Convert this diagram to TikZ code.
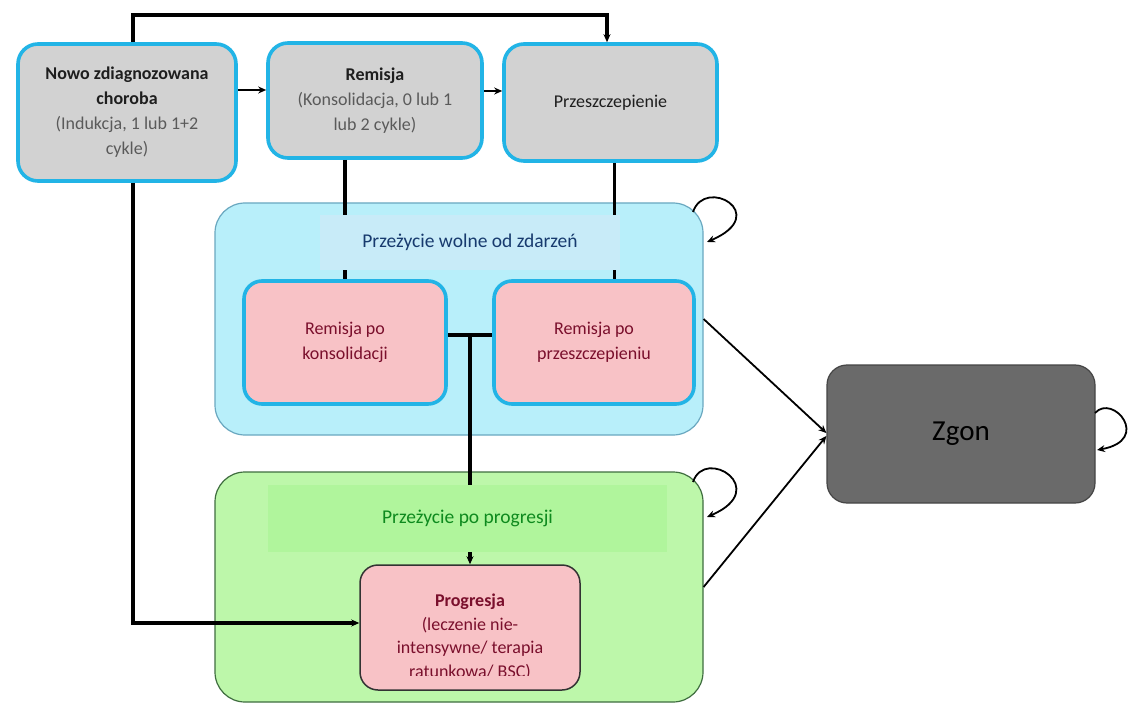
\documentclass[tikz,border=0pt]{standalone}
\usepackage{fontspec}
\setmainfont{Carlito}
\usetikzlibrary{arrows.meta,calc}
\definecolor{boxgray}{HTML}{D2D2D2}
\definecolor{cyanb}{HTML}{22B4E6}
\definecolor{bluefill}{HTML}{B8EFFA}
\definecolor{bluehead}{HTML}{C8EBF8}
\definecolor{blueedge}{HTML}{6AA8C0}
\definecolor{bluetext}{HTML}{173A6E}
\definecolor{pinkfill}{HTML}{F8C2C6}
\definecolor{redtext}{HTML}{7A0F2C}
\definecolor{greenfill}{HTML}{BDF7AA}
\definecolor{greenhead}{HTML}{B0F59C}
\definecolor{greenedge}{HTML}{3F6E3F}
\definecolor{greentext}{HTML}{0E8A1E}
\definecolor{zgonfill}{HTML}{6A6A6A}
\definecolor{zgonedge}{HTML}{454545}
\definecolor{partgray}{HTML}{5A5A5A}
\definecolor{titlecol}{HTML}{1E1E1E}
\tikzset{
  base/.style={rectangle, align=center, inner sep=2pt, font=\fontsize{18}{25}\selectfont},
  graybox/.style={base, rounded corners=20pt, fill=boxgray, draw=cyanb, line width=3.6pt, text=titlecol},
  pinkbox/.style={base, rounded corners=18pt, fill=pinkfill, draw=cyanb, line width=3.6pt, text=redtext},
  bluebox/.style={rectangle, rounded corners=30pt, fill=bluefill, draw=blueedge, line width=1.2pt},
  greenbox/.style={rectangle, rounded corners=30pt, fill=greenfill, draw=greenedge, line width=1.2pt},
  headb/.style={base, fill=bluehead, text=bluetext, font=\fontsize{19.5}{24}\selectfont},
  headg/.style={base, fill=greenhead, text=greentext, font=\fontsize{19.5}{24}\selectfont},
  progbox/.style={rectangle, rounded corners=18pt, fill=pinkfill, draw=black!80, line width=1.5pt},
  zgonbox/.style={base, rounded corners=20pt, fill=zgonfill, draw=zgonedge, line width=1.2pt, font=\fontsize{29}{35}\selectfont, text=black},
  arr/.style={-{Stealth[length=8pt,width=7pt]}},
  thk/.style={line width=3.4pt, black},
  thn/.style={line width=1.8pt, black},
  paren/.style={color=partgray}
}
\begin{document}
\begin{tikzpicture}[x=1pt,y=-1pt]
\useasboundingbox (0,0) rectangle (1132,711);
\fill[white] (0,0) rectangle (1132,711);

% containers
\node[bluebox, minimum width=488pt, minimum height=232pt] (blue) at (459,319) {};
\node[greenbox, minimum width=488pt, minimum height=230pt] (green) at (459,587) {};

% top boxes
\node[graybox, minimum width=218pt, minimum height=137pt] (nowo) at (127,112.5)
  {\bfseries Nowo zdiagnozowana\\ \bfseries choroba\\ {\color{partgray}(Indukcja, 1 lub 1+2}\\ {\color{partgray}cykle)}};
\node[graybox, minimum width=214pt, minimum height=115pt] (remisja) at (375,100.5)
  {\bfseries Remisja\\ {\color{partgray}(Konsolidacja, 0 lub 1}\\ {\color{partgray}lub 2 cykle)}};
\node[graybox, minimum width=213pt, minimum height=117pt] (przesz) at (610.5,102.5)
  {Przeszczepienie};

% coordinates for connector rows
\coordinate (y90) at (0,90);
\coordinate (y91) at (0,91);
\coordinate (j) at (470,335);

% connectors (drawn before header boxes, which hide them)
\draw[thk,arr] ([xshift=6pt]nowo.north) -- ++(0,-27) -| ([xshift=-3.5pt]przesz.north);
\draw[thn,line width=2.2pt,arr] (nowo.east |- y90) -- (remisja.west |- y90);
\draw[thn,line width=2.2pt,arr] (remisja.east |- y91) -- (przesz.west |- y91);

\node[pinkbox, minimum width=202pt, minimum height=123pt] (rpk) at (345,342.5)
  {Remisja po\\ konsolidacji};
\node[pinkbox, minimum width=200pt, minimum height=123pt] (rpp) at (594,342.5)
  {Remisja po\\ przeszczepieniu};
\node[progbox, minimum width=220pt, minimum height=125pt] (prog) at (470,627.5) {};

\draw[thk] (remisja.south -| rpk.north) -- (rpk.north);
\coordinate (pz) at ([xshift=4pt]przesz.south);
\draw[thk] (pz) -- (pz |- rpp.north);
\draw[thk] (rpk.east |- j) -- (rpp.west |- j);
\draw[thk,arr] (j) -- (prog.north);
\draw[thk,arr] ([xshift=6pt]nowo.south) |- ([yshift=4.5pt]prog.west);

% header boxes
\node[headb, minimum width=300pt, minimum height=55pt] (bhead) at (470,242.5) {Przeżycie wolne od zdarzeń};
\node[headg, minimum width=399pt, minimum height=67pt] (ghead) at (467.5,518.5) {Przeżycie po progresji};

% Progresja text, clipped at the bottom
\begin{scope}
\clip (340,560) rectangle (600,675);
\node[base, text=redtext, anchor=north, font=\fontsize{18}{23.5}\selectfont] (progtext) at (470,592)
  {\bfseries Progresja\\ (leczenie nie-\\ intensywne/ terapia\\ ratunkowa/ BSC)};
\end{scope}

% Zgon
\node[zgonbox, minimum width=268pt, minimum height=138pt] (zgon) at (961,434) {Zgon};

% transitions to Zgon
\draw[thn,arr] (blue.east) -- ([yshift=1pt]zgon.west);
\draw[thn,arr] (green.east) -- ([yshift=-2pt]zgon.west);

% self loops
\coordinate (bl1) at (693,212);
\coordinate (bl2) at (707,242);
\draw[thn,arr] (bl1) .. controls (705,176) and (772,214) .. (bl2);
\coordinate (gl1) at (693,482);
\coordinate (gl2) at (707,517);
\draw[thn,arr] (gl1) .. controls (705,446) and (772,489) .. (gl2);
\coordinate (zl1) at (1095,413);
\coordinate (zl2) at (1097,450);
\draw[thn,arr] (zl1) .. controls (1113,393) and (1152,440) .. (zl2);
\end{tikzpicture}
\end{document}
